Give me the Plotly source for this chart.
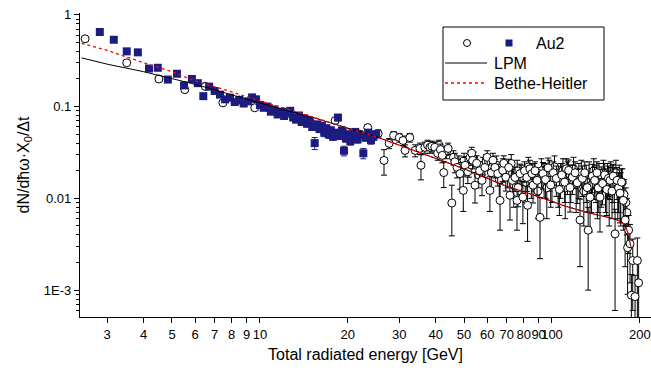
import plotly.graph_objects as go

# ---------------- data ----------------
# open circles (Au2, set 1)
cx = [2.52, 3.50, 4.51, 5.53, 6.5, 7.47, 8.5, 9.6, 10.8, 12.0, 13.0, 14.0, 15.0, 16.0, 17.0, 18.1, 19.0, 20.0,
      21.0, 22.0, 23.4, 24.3, 25.4, 26.6, 27.7, 28.7, 30.0, 30.9, 31.4, 32.6, 34.0, 35.3, 35.6, 36.7, 37.5, 38.2,
      38.8, 39.7, 40.6, 41.5, 42.1, 42.6, 44.1, 45.4, 46.5, 47.3, 48.4, 49.7, 50.4, 51.5, 52.4, 53.1, 53.5, 54.5,
      55.2, 56.5, 57.6, 58.9, 60.0, 61.3, 62.8, 63.8, 65.2, 66.4, 67.8, 68.4, 69.5, 71.1, 71.8, 73.2, 74.7, 75.9,
      76.5, 77.7, 79.5, 80.5, 82.0, 82.5, 84.0, 85.4, 86.1, 87.5, 88.9, 91.0, 93.1, 95.0, 97.0, 99.0, 101.0, 103.5,
      106.0, 108.0, 110.5, 112.0, 114.0, 115.3, 117.5, 120.0, 122.0, 124.7, 127.0, 129.5, 132.0, 133.0, 135.0,
      137.5, 140.0, 142.5, 144.0, 146.0, 149.0, 151.5, 154.0, 156.0, 158.0, 160.5, 162.0, 164.4, 167.0, 169.0,
      171.0, 173.0, 175.5, 178.0, 181.5, 183.0, 185.0, 187.0, 189.0, 192.5, 196.0, 198.0]
cy = [0.548, 0.30, 0.20, 0.153, 0.166, 0.11, 0.118, 0.097, 0.095, 0.088, 0.079, 0.07, 0.066, 0.06, 0.056, 0.0705,
      0.05, 0.052, 0.048, 0.05, 0.059, 0.048, 0.0508, 0.0259, 0.0398, 0.0484, 0.046, 0.0427, 0.0333, 0.046, 0.0333,
      0.035, 0.0229, 0.036, 0.038, 0.036, 0.037, 0.036, 0.031, 0.034, 0.0294, 0.0191, 0.035, 0.0089, 0.025, 0.0217,
      0.0186, 0.0122, 0.0229, 0.0195, 0.0279, 0.031, 0.026, 0.0139, 0.0241, 0.02, 0.0157, 0.0217, 0.028, 0.0122,
      0.026, 0.0217, 0.0186, 0.0095, 0.0202, 0.0241, 0.017, 0.0217, 0.0108, 0.0157, 0.0169, 0.0095, 0.0131, 0.0186,
      0.0103, 0.02, 0.0169, 0.0084, 0.021, 0.0186, 0.0139, 0.02, 0.0157, 0.0062, 0.0186, 0.016, 0.0215, 0.014,
      0.019, 0.0165, 0.0125, 0.018, 0.015, 0.021, 0.0202, 0.0131, 0.017, 0.019, 0.0148, 0.0058, 0.0165, 0.019,
      0.0131, 0.0045, 0.0103, 0.0175, 0.0157, 0.019, 0.013, 0.0103, 0.0145, 0.018, 0.0125, 0.0165, 0.0157, 0.012,
      0.0175, 0.0041, 0.0157, 0.013, 0.0114, 0.015, 0.0095, 0.0058, 0.0029, 0.0045, 0.0032, 0.00088, 0.0021,
      0.00085, 0.0021, 0.0012]
ce = [0.02, 0.01, 0.007, 0.006, 0.006, 0.005, 0.005, 0.005, 0.005, 0.005, 0.004, 0.004, 0.004, 0.004, 0.004, 0.004,
      0.004, 0.004, 0.004, 0.004, 0.005, 0.004, 0.005, 0.008, 0.005, 0.005, 0.005, 0.005, 0.005, 0.005, 0.005,
      0.005, 0.007, 0.005, 0.005, 0.005, 0.005, 0.005, 0.005, 0.005, 0.005, 0.006, 0.005, 0.005, 0.006, 0.005,
      0.006, 0.005, 0.005, 0.005, 0.005, 0.005, 0.005, 0.005, 0.005, 0.005, 0.005, 0.005, 0.005, 0.005, 0.005,
      0.005, 0.005, 0.005, 0.005, 0.005, 0.005, 0.005, 0.005, 0.005, 0.005, 0.005, 0.005, 0.005, 0.005, 0.005,
      0.005, 0.005, 0.005, 0.005, 0.005, 0.005, 0.005, 0.004, 0.006, 0.006, 0.006, 0.006, 0.006, 0.006, 0.006,
      0.006, 0.006, 0.006, 0.006, 0.006, 0.006, 0.006, 0.006, 0.004, 0.006, 0.006, 0.006, 0.0035, 0.006, 0.006,
      0.006, 0.006, 0.006, 0.006, 0.006, 0.006, 0.006, 0.006, 0.006, 0.006, 0.006, 0.0035, 0.006, 0.006, 0.006,
      0.006, 0.005, 0.004, 0.002, 0.002, 0.002, 0.0006, 0.0015, 0.0006, 0.0016, 0.0009]

# open circles (Au2, further bins in the dense region)
cx2 = [41.0, 43.5, 46.0, 48.0, 50.0, 52.0, 54.0, 56.0, 58.0, 59.5, 62.0, 64.5, 66.0, 68.0, 70.5, 72.5, 74.0, 76.0,
       78.5, 81.0, 83.0, 85.0, 87.0, 89.5, 92.0, 94.0, 96.0, 98.0, 100.0, 102.0, 105.0, 107.0, 109.0, 111.0, 113.0,
       116.0, 118.5, 121.0, 123.5, 126.0, 128.5, 131.0, 134.0, 136.5, 139.0, 141.5, 143.0, 145.0, 147.5, 150.0,
       152.5, 155.0, 157.0, 159.0, 161.5, 163.5, 165.5, 168.0, 170.0, 172.0, 174.0, 176.5, 179.0, 180.5]
cy2 = [0.038, 0.032, 0.028, 0.024, 0.026, 0.022, 0.027, 0.018, 0.023, 0.025, 0.019, 0.023, 0.016, 0.021, 0.019,
       0.024, 0.014, 0.02, 0.017, 0.015, 0.022, 0.016, 0.018, 0.012, 0.02, 0.017, 0.013, 0.019, 0.016, 0.022, 0.015,
       0.017, 0.02, 0.013, 0.018, 0.016, 0.021, 0.014, 0.017, 0.019, 0.012, 0.016, 0.018, 0.014, 0.02, 0.016, 0.013,
       0.017, 0.015, 0.019, 0.014, 0.017, 0.012, 0.018, 0.016, 0.014, 0.019, 0.013, 0.016, 0.012, 0.015, 0.011,
       0.009, 0.007]
ce2 = [0.005, 0.005, 0.005, 0.005, 0.005, 0.005, 0.005, 0.005, 0.005, 0.005, 0.006, 0.006, 0.006, 0.006, 0.006,
       0.006, 0.006, 0.006, 0.006, 0.006, 0.006, 0.006, 0.006, 0.006, 0.007, 0.007, 0.007, 0.007, 0.007, 0.007,
       0.007, 0.007, 0.007, 0.007, 0.007, 0.007, 0.007, 0.007, 0.007, 0.007, 0.007, 0.007, 0.007, 0.007, 0.007,
       0.007, 0.007, 0.007, 0.007, 0.007, 0.007, 0.007, 0.007, 0.007, 0.007, 0.007, 0.007, 0.007, 0.007, 0.007,
       0.006, 0.005, 0.004, 0.003]

# filled squares (Au2, set 2)
sx = [2.83, 3.16, 3.50, 3.82, 4.17, 4.47, 4.84, 5.20, 5.50, 5.85, 6.13, 6.40, 6.70, 7.00, 7.30, 7.60, 7.90, 8.20,
      8.50, 8.80, 9.10, 9.40, 9.70, 10.0, 10.3, 10.6, 10.9, 11.2, 11.5, 11.8, 12.1, 12.4, 12.7, 13.0, 13.3, 13.6,
      13.9, 14.2, 14.5, 14.8, 15.1, 15.4, 15.7, 16.0, 16.3, 16.6, 16.9, 17.2, 17.5, 17.8, 18.1, 18.5, 18.8, 19.1,
      19.4, 19.7, 20.0, 20.4, 20.8, 21.2, 21.6, 22.0, 22.6, 23.0, 23.5, 24.0, 24.5, 25.0]
sy = [0.65, 0.535, 0.40, 0.39, 0.26, 0.265, 0.197, 0.228, 0.17, 0.20, 0.18, 0.13, 0.165, 0.148, 0.135, 0.12, 0.125,
      0.112, 0.118, 0.108, 0.114, 0.126, 0.12, 0.104, 0.097, 0.1, 0.088, 0.093, 0.082, 0.088, 0.079, 0.084, 0.09,
      0.076, 0.072, 0.08, 0.068, 0.074, 0.065, 0.07, 0.06, 0.04, 0.064, 0.057, 0.062, 0.052, 0.058, 0.05, 0.055,
      0.047, 0.052, 0.076, 0.048, 0.055, 0.033, 0.045, 0.05, 0.042, 0.048, 0.053, 0.044, 0.049, 0.031, 0.046,
      0.052, 0.043, 0.047, 0.05]
se = [0.012, 0.01, 0.01, 0.01, 0.008, 0.008, 0.006, 0.006, 0.006, 0.006, 0.006, 0.008, 0.006, 0.006, 0.006, 0.006,
      0.006, 0.006, 0.006, 0.006, 0.006, 0.006, 0.006, 0.005, 0.005, 0.005, 0.005, 0.005, 0.005, 0.005, 0.005,
      0.005, 0.005, 0.005, 0.005, 0.005, 0.005, 0.005, 0.005, 0.005, 0.005, 0.006, 0.005, 0.005, 0.005, 0.005,
      0.005, 0.005, 0.005, 0.004, 0.004, 0.006, 0.004, 0.004, 0.004, 0.004, 0.004, 0.004, 0.004, 0.004, 0.004,
      0.004, 0.004, 0.004, 0.004, 0.004, 0.004, 0.004]

# LPM calculation
lpm_x = [2.45, 3, 4, 4.55, 5, 6, 7, 8, 9, 10, 12, 15, 17.4, 20, 25, 30, 40, 50, 60, 70, 80, 90, 100, 110, 120,
         130, 140, 150, 160, 170, 176, 179, 182, 184, 186]
lpm_y = [0.34, 0.29, 0.24, 0.217, 0.2, 0.175, 0.152, 0.134, 0.122, 0.11, 0.093, 0.077, 0.067, 0.058, 0.047, 0.038,
         0.027, 0.021, 0.0165, 0.0135, 0.0118, 0.0105, 0.0093, 0.0083, 0.0076, 0.0071, 0.0067, 0.0064, 0.0061,
         0.0057, 0.0053, 0.0048, 0.0042, 0.0036, 0.003]

# Bethe-Heitler calculation
bh_x = [2.45, 3, 4, 5, 6, 7, 8, 9, 10, 12, 15, 17.4, 20, 25, 30, 40, 50, 60, 70, 80, 90, 100, 110, 120, 130, 140,
        150, 160, 170, 176, 179, 182, 184, 186]
bh_y = [0.49, 0.41, 0.30, 0.24, 0.19, 0.165, 0.145, 0.128, 0.116, 0.097, 0.078, 0.067, 0.058, 0.047, 0.038, 0.027,
        0.021, 0.0165, 0.0135, 0.0118, 0.0105, 0.0093, 0.0083, 0.0076, 0.0071, 0.0067, 0.0064, 0.0061, 0.0057,
        0.0053, 0.0048, 0.0042, 0.0036, 0.003]

x_ticks = [3, 4, 5, 6, 7, 8, 9, 10, 20, 30, 40, 50, 60, 70, 80, 90, 100, 200]
x_ticktext = ["3", "4", "5", "6", "7", "8", "9", "10", "20", "30", "40", "50", "60", "70", "80", "90", "100", "200"]
y_ticks = [1, 0.1, 0.01, 0.001]
y_ticktext = ["1", "0.1", "0.01", "1E-3"]
y_minor = [m * d for d in [0.0001, 0.001, 0.01, 0.1] for m in [2, 3, 4, 5, 6, 7, 8, 9]]

NAVY = "#1c1c80"
FONT = "Arial, Liberation Sans, sans-serif"

circle_marker = dict(symbol="circle", size=8, color="white", line=dict(color="black", width=1))

fig = go.Figure()
fig.add_trace(go.Scatter(
    x=cx2, y=cy2, mode="markers", marker=circle_marker,
    error_y=dict(type="data", array=ce2, color="black", thickness=1, width=3),
    showlegend=False))
fig.add_trace(go.Scatter(
    x=cx, y=cy, mode="markers", marker=circle_marker,
    error_y=dict(type="data", array=ce, color="black", thickness=1, width=3),
    showlegend=False))
fig.add_trace(go.Scatter(
    x=sx, y=sy, mode="markers",
    marker=dict(symbol="square", size=8, color=NAVY, line=dict(width=0)),
    error_y=dict(type="data", array=se, color=NAVY, thickness=1, width=3),
    showlegend=False))
fig.add_trace(go.Scatter(x=lpm_x, y=lpm_y, mode="lines", line=dict(color="black", width=1), showlegend=False))
fig.add_trace(go.Scatter(x=bh_x, y=bh_y, mode="lines", line=dict(color="red", width=1.3, dash="dot"),
                         showlegend=False))

# manual legend (box, symbols, lines, text) in paper coordinates
def px2paper(px, py):
    return (px - 80) / 571.0, (317 - py) / 304.0

bx0, by0 = px2paper(443, 100)
bx1, by1 = px2paper(604, 27)
shapes = [dict(type="rect", xref="paper", yref="paper", x0=bx0, y0=by0, x1=bx1, y1=by1,
               line=dict(color="black", width=1), fillcolor="white", layer="above")]
cxp, cyp = px2paper(467, 43)
shapes.append(dict(type="circle", xref="paper", yref="paper", xsizemode="pixel", ysizemode="pixel",
                   xanchor=cxp, yanchor=cyp, x0=-3.5, x1=3.5, y0=-3.5, y1=3.5,
                   line=dict(color="black", width=1), fillcolor="white", layer="above"))
sxp, syp = px2paper(509, 43)
shapes.append(dict(type="rect", xref="paper", yref="paper", xsizemode="pixel", ysizemode="pixel",
                   xanchor=sxp, yanchor=syp, x0=-3.5, x1=3.5, y0=-3.5, y1=3.5,
                   line=dict(width=0), fillcolor=NAVY, layer="above"))
lx0, ly1 = px2paper(445, 63)
lx1, _ = px2paper(487, 63)
shapes.append(dict(type="line", xref="paper", yref="paper", x0=lx0, x1=lx1, y0=ly1, y1=ly1,
                   line=dict(color="black", width=1), layer="above"))
_, ly2 = px2paper(445, 83)
shapes.append(dict(type="line", xref="paper", yref="paper", x0=lx0, x1=lx1, y0=ly2, y1=ly2,
                   line=dict(color="red", width=1.3, dash="dot"), layer="above"))

tx1, ty1 = px2paper(534, 43)
tx2, _ = px2paper(492, 63)
annotations = [
    dict(xref="paper", yref="paper", x=tx1, y=ty1, text="Au2", showarrow=False, xanchor="left", yanchor="middle",
         font=dict(family=FONT, size=16, color="black")),
    dict(xref="paper", yref="paper", x=tx2, y=ly1, text="LPM", showarrow=False, xanchor="left", yanchor="middle",
         font=dict(family=FONT, size=16, color="black")),
    dict(xref="paper", yref="paper", x=tx2, y=ly2, text="Bethe-Heitler", showarrow=False, xanchor="left",
         yanchor="middle", font=dict(family=FONT, size=16, color="black")),
]

fig.update_layout(
    width=651, height=374,
    margin=dict(l=80, r=0, t=13, b=57),
    paper_bgcolor="white", plot_bgcolor="white",
    font=dict(family=FONT, size=13, color="black"),
    shapes=shapes, annotations=annotations,
    showlegend=False,
)
fig.update_xaxes(
    type="log", range=[0.384, 2.339],
    tickmode="array", tickvals=x_ticks, ticktext=x_ticktext, tickangle=0,
    ticks="outside", ticklen=5, tickwidth=1, tickcolor="black",
    showline=True, linecolor="black", linewidth=1.3, showgrid=False, zeroline=False,
    tickfont=dict(size=13),
    title=dict(text="Total radiated energy [GeV]", font=dict(size=16), standoff=8),
)
fig.update_yaxes(
    type="log", range=[-3.293, 0.02], autorange=False,
    tickmode="array", tickvals=y_ticks, ticktext=y_ticktext,
    ticks="outside", ticklen=5, tickwidth=1, tickcolor="black",
    minor=dict(tickmode="array", tickvals=y_minor, ticks="outside", ticklen=3, tickcolor="black", showgrid=False),
    showline=True, linecolor="black", linewidth=1.3, showgrid=False, zeroline=False,
    tickfont=dict(size=13),
    title=dict(text="dN/dħω·X<sub>0</sub>/Δt", font=dict(size=16), standoff=10),
)

fig.write_html("out.html")
